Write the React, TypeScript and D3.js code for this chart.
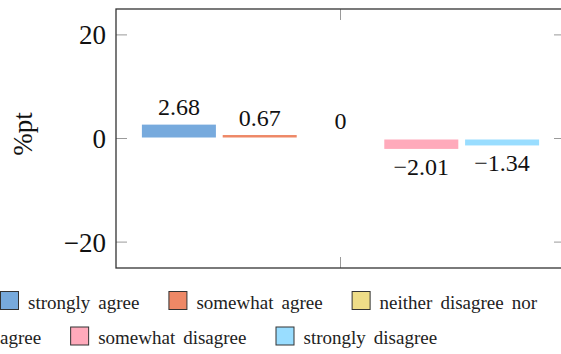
import React, { useEffect, useRef } from "react";
import * as d3 from "d3";

const categories = [
  "strongly agree",
  "somewhat agree",
  "neither disagree nor agree",
  "somewhat disagree",
  "strongly disagree",
];
const values = [2.68, 0.67, 0, -2.01, -1.34];
const colors = ["#77AADD", "#EE8866", "#EEDD88", "#FFAABB", "#99DDFF"];
const yTicks = [-20, 0, 20];

const serif = "'Liberation Serif', 'Times New Roman', serif";
const fmt = (v: number) => (v < 0 ? "\u2212" + Math.abs(v) : String(v));

export default function App() {
  const ref = useRef<SVGSVGElement>(null);

  useEffect(() => {
    document.body.style.margin = "0";
    const svg = d3.select(ref.current);
    svg.selectAll("*").remove();

    // plot box
    const left = 116, right = 565, top = 9, bottom = 268;
    const y = d3.scaleLinear().domain([-25, 25]).range([bottom, top]);
    const x0 = d3.scaleBand().domain(["all"]).range([left, right]);
    const xc = x0("all")! + x0.bandwidth() / 2;
    const x = d3.scaleBand()
      .domain(categories)
      .range([xc - 202, xc + 202])
      .paddingInner(0.084)
      .paddingOuter(0.042);

    // bars
    svg.selectAll("rect.bar")
      .data(values)
      .enter()
      .append("rect")
      .attr("class", "bar")
      .attr("x", (d, i) => x(categories[i])!)
      .attr("width", x.bandwidth())
      .attr("y", d => Math.min(y(d), y(0)) + (d > 0 ? 0 : 1))
      .attr("height", d => Math.max(0, Math.abs(y(d) - y(0)) - 1))
      .attr("fill", (d, i) => colors[i]);

    // value labels
    svg.selectAll("text.val")
      .data(values)
      .enter()
      .append("text")
      .attr("class", "val")
      .attr("x", (d, i) => x(categories[i])! + x.bandwidth() / 2)
      .attr("y", d => (d < 0 ? y(d) + 26 : y(d) - 9.5))
      .attr("text-anchor", "middle")
      .attr("font-family", serif)
      .attr("font-size", 24)
      .attr("fill", "#111")
      .text(d => fmt(d));

    // ticks
    const tickColor = "#9a9a9a";
    yTicks.forEach(t => {
      svg.append("line").attr("x1", left).attr("x2", left + 11)
        .attr("y1", y(t)).attr("y2", y(t)).attr("stroke", tickColor).attr("stroke-width", 1);
      svg.append("line").attr("x1", right - 11).attr("x2", right)
        .attr("y1", y(t)).attr("y2", y(t)).attr("stroke", tickColor).attr("stroke-width", 1);
      svg.append("text")
        .attr("x", 106).attr("y", y(t)).attr("dy", "0.35em")
        .attr("text-anchor", "end")
        .attr("font-family", serif).attr("font-size", 27).attr("fill", "#111")
        .text(fmt(t));
    });
    svg.append("line").attr("x1", xc).attr("x2", xc).attr("y1", top).attr("y2", top + 11)
      .attr("stroke", tickColor).attr("stroke-width", 1);
    svg.append("line").attr("x1", xc).attr("x2", xc).attr("y1", bottom - 11).attr("y2", bottom)
      .attr("stroke", tickColor).attr("stroke-width", 1);

    // frame
    svg.append("rect")
      .attr("x", left).attr("y", top)
      .attr("width", right - left).attr("height", bottom - top)
      .attr("fill", "none").attr("stroke", "#333").attr("stroke-width", 1.3);

    // y label
    svg.append("text")
      .attr("transform", "translate(32,134) rotate(-90)")
      .attr("text-anchor", "middle")
      .attr("font-family", serif).attr("font-size", 27).attr("fill", "#111")
      .text("%pt");

    // legend (flowing, wraps like a paragraph)
    const lg = svg.append("g").attr("font-family", serif).attr("font-size", 19).attr("fill", "#222");
    const measure = (w: string) => {
      const t = lg.append("text").text(w);
      const len = (t.node() as SVGTextElement).getComputedTextLength();
      t.remove();
      return len;
    };
    const rowTop = [291.5, 327];
    const maxX = 558, box = 18, wordGap = 8, entryGap = 29;
    let lx = 0, row = 0;
    categories.forEach((c, i) => {
      const words = c.split(" ");
      const widths = words.map(measure);
      if (lx + box + 10 + widths[0] > maxX) { row++; lx = 0; }
      lg.append("rect")
        .attr("x", lx + 0.5).attr("y", rowTop[row])
        .attr("width", box).attr("height", box)
        .attr("fill", colors[i]).attr("stroke", "#333").attr("stroke-width", 1);
      lx += box + 10;
      words.forEach((w, k) => {
        if (k > 0) {
          if (lx + wordGap + widths[k] > maxX) { row++; lx = 0; }
          else lx += wordGap;
        }
        lg.append("text").attr("x", lx).attr("y", rowTop[row] + 17).text(w);
        lx += widths[k];
      });
      lx += entryGap;
    });
  }, []);

  return <svg ref={ref} width={561} height={354} style={{ display: "block" }} />;
}
